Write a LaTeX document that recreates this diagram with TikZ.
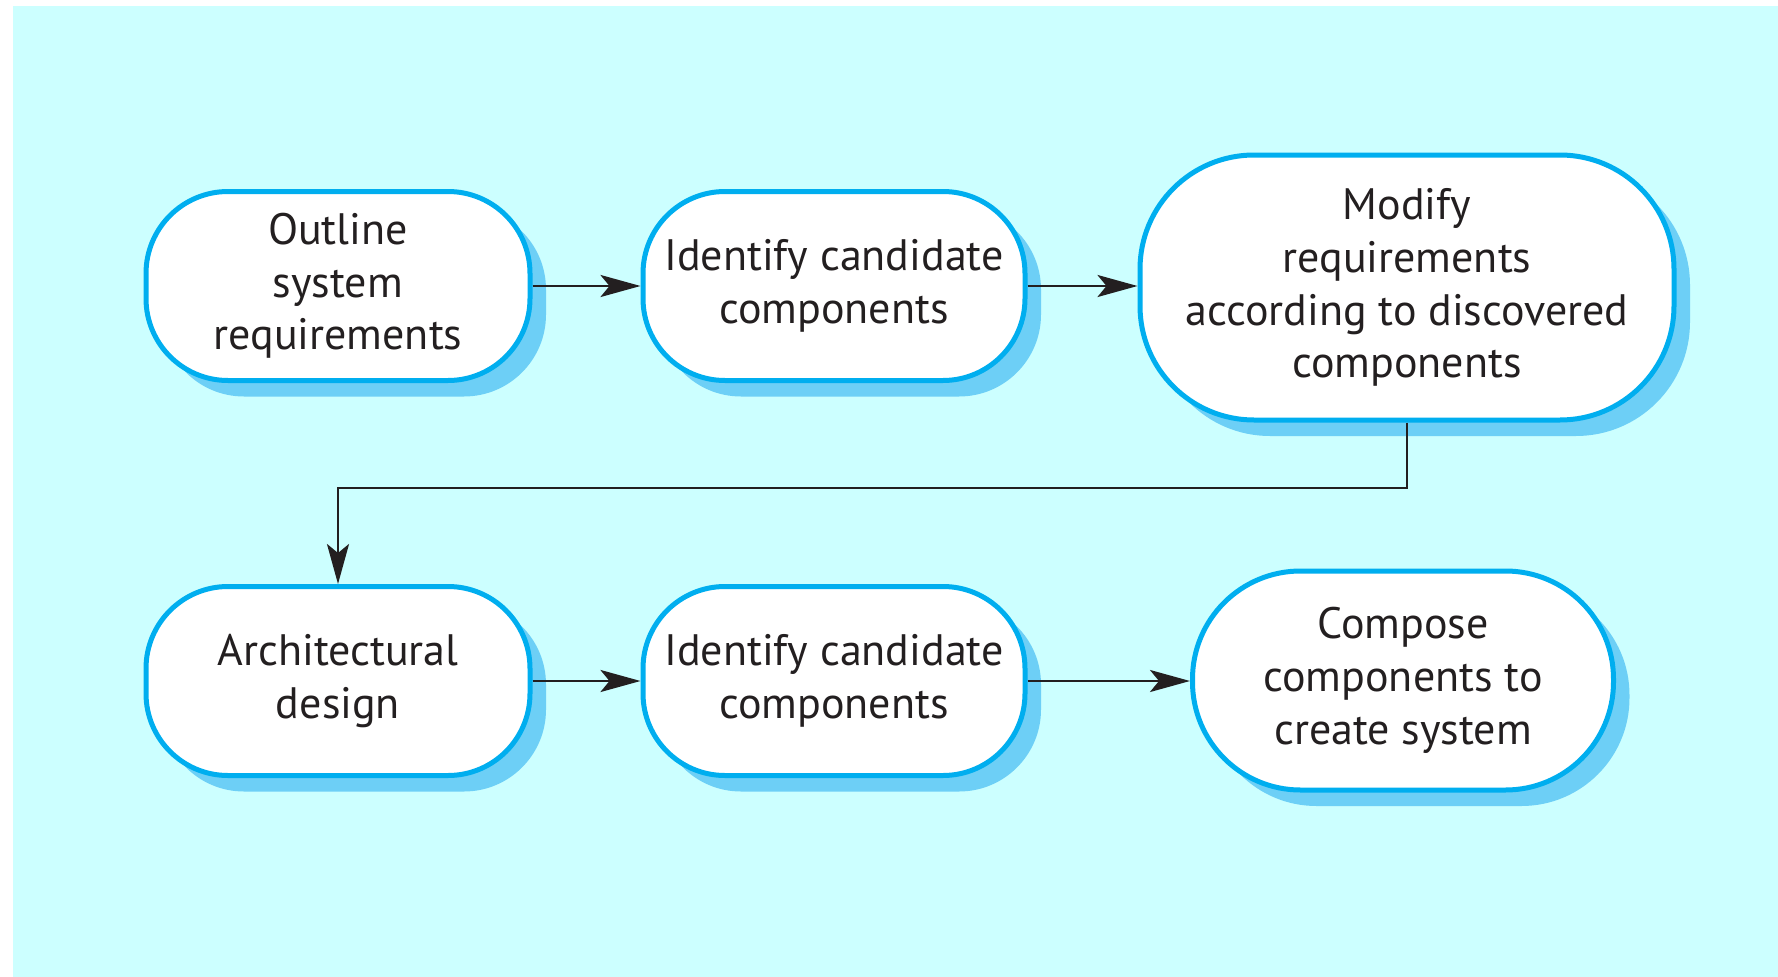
\documentclass[tikz,border=0pt]{standalone}
\usepackage{fontspec}
\setmainfont{PT Sans}
\usetikzlibrary{arrows.meta,shadows}
\definecolor{bgcyan}{HTML}{CCFFFF}
\definecolor{bordercyan}{HTML}{00AEEF}
\definecolor{shadowblue}{HTML}{6DCFF6}
\definecolor{textdark}{HTML}{231F20}
\tikzset{
  procbox/.style={draw=bordercyan, line width=5pt, fill=white, align=center,
    inner sep=0pt, text=textdark,
    font=\fontsize{44pt}{52.7pt}\selectfont,
    general shadow={shadow xshift=16pt, shadow yshift=-16pt, fill=shadowblue, draw=none}},
  arr/.style={draw=textdark, line width=2.8pt,
    -{Stealth[length=40pt, width=22pt, inset=9pt]}}
}
\begin{document}
\begin{tikzpicture}[x=1pt, y=-1pt]
\useasboundingbox (0,0) rectangle (1778,977);
\fill[bgcyan] (13,6) rectangle (1778,977);
\node[procbox, minimum width=384pt, minimum height=189pt, rounded corners=82pt] (n1) at (338,286) {Outline\\system\\requirements};
\node[procbox, minimum width=382pt, minimum height=189pt, rounded corners=82pt] (n2) at (834,286) {Identify candidate\\components};
\node[procbox, minimum width=534pt, minimum height=265pt, rounded corners=114pt] (n3) at (1407,287.5) {Modify\\requirements\\according to discovered\\components};
\node[procbox, minimum width=384pt, minimum height=189pt, rounded corners=82pt] (n4) at (338,681) {Architectural\\design};
\node[procbox, minimum width=382pt, minimum height=189pt, rounded corners=82pt] (n5) at (834,681) {Identify candidate\\components};
\node[procbox, minimum width=421pt, minimum height=219pt, rounded corners=108pt] (n6) at (1403,680.5) {Compose\\components to\\create system};
\coordinate (bend) at (1407,488);
\draw[arr] (n1.east) -- (n2.west);
\draw[arr] (n2.east) -- (n2.east -| n3.west);
\draw[arr] (n3.south) -- (bend) -| (n4.north);
\draw[arr] (n4.east) -- (n5.west);
\draw[arr] (n5.east) -- (n5.east -| n6.west);
\end{tikzpicture}
\end{document}
